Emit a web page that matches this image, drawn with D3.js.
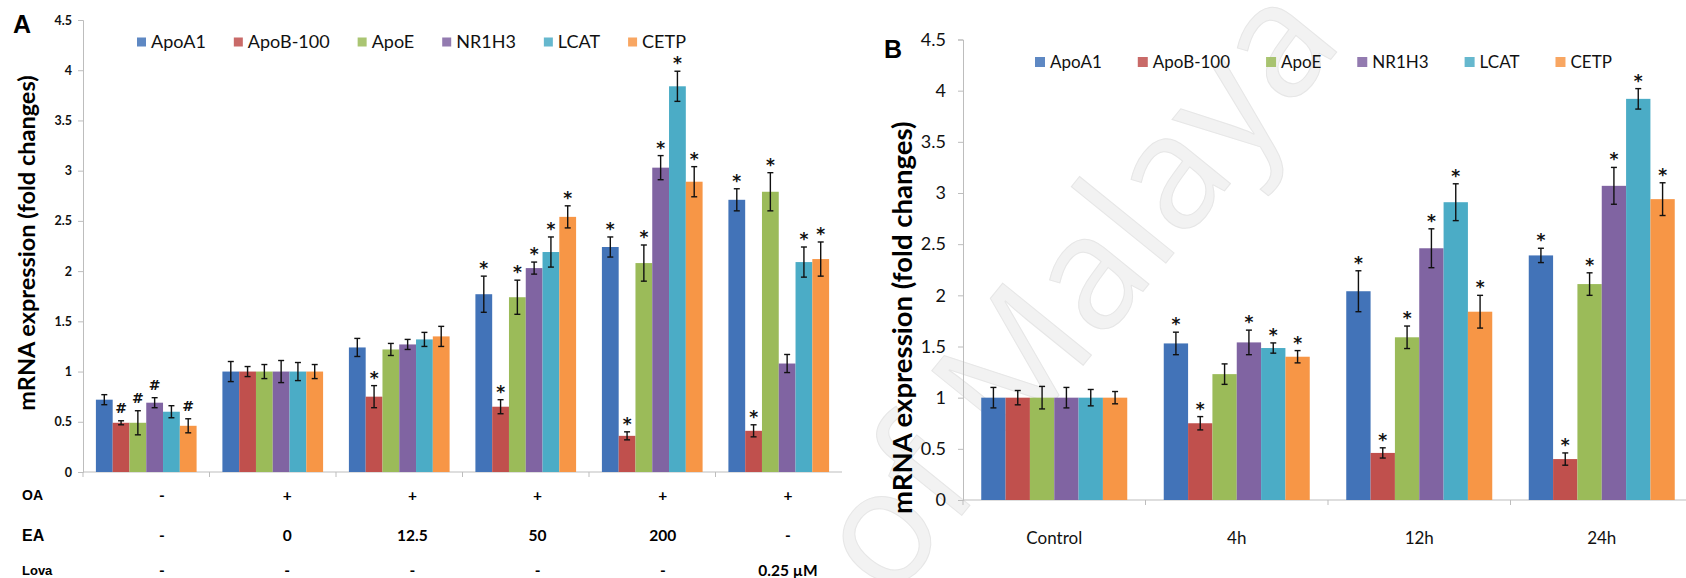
<!DOCTYPE html>
<html>
<head>
<meta charset="utf-8">
<script src="https://cdn.jsdelivr.net/npm/d3@7"></script>
<style>
  body { margin: 0; background: #fff; }
  svg { display: block; font-family: Lato, "Open Sans", sans-serif; }
</style>
</head>
<body>
<svg id="chart" width="1686" height="578"></svg>
<script>
"use strict";
// ---- data ----
var seriesNames = ["ApoA1", "ApoB-100", "ApoE", "NR1H3", "LCAT", "CETP"];
var seriesColors = ["#4273b8", "#c0504d", "#9bbb59", "#8064a2", "#4bacc6", "#f79646"];
var yTicks = [0, 0.5, 1, 1.5, 2, 2.5, 3, 3.5, 4, 4.5];

// panel A : treatment groups
var groupsA = ["ctrl", "oa", "ea12", "ea50", "ea200", "lova"];
var oaLabels = ["-", "+", "+", "+", "+", "+"];
var eaLabels = ["-", "0", "12.5", "50", "200", "-"];
var lovaLabels = ["-", "-", "-", "-", "-", "0.25 µM"];
// one row per series, one column per group
var meanA = [
  [0.72, 1.00, 1.24, 1.77, 2.24, 2.71],
  [0.49, 1.00, 0.75, 0.65, 0.36, 0.41],
  [0.49, 1.00, 1.22, 1.74, 2.08, 2.79],
  [0.69, 1.00, 1.27, 2.03, 3.03, 1.08],
  [0.60, 1.00, 1.32, 2.19, 3.84, 2.09],
  [0.46, 1.00, 1.35, 2.54, 2.89, 2.12]
];
var errA = [
  [0.05, 0.10, 0.09, 0.18, 0.10, 0.11],
  [0.02, 0.05, 0.11, 0.07, 0.04, 0.06],
  [0.12, 0.07, 0.06, 0.17, 0.18, 0.19],
  [0.05, 0.11, 0.05, 0.06, 0.12, 0.09],
  [0.06, 0.09, 0.07, 0.15, 0.15, 0.15],
  [0.07, 0.07, 0.10, 0.11, 0.15, 0.17]
];
var markA = [
  ["", "", "", "*", "*", "*"],
  ["#", "", "*", "*", "*", "*"],
  ["#", "", "", "*", "*", "*"],
  ["#", "", "", "*", "*", ""],
  ["", "", "", "*", "*", "*"],
  ["#", "", "", "*", "*", "*"]
];

// panel B : time course
var groupsB = ["Control", "4h", "12h", "24h"];
var meanB = [
  [1.00, 1.53, 2.04, 2.39],
  [1.00, 0.75, 0.46, 0.40],
  [1.00, 1.23, 1.59, 2.11],
  [1.00, 1.54, 2.46, 3.07],
  [1.00, 1.485, 2.91, 3.92],
  [1.00, 1.40, 1.84, 2.94]
];
var errB = [
  [0.10, 0.11, 0.20, 0.07],
  [0.07, 0.065, 0.05, 0.06],
  [0.11, 0.10, 0.11, 0.11],
  [0.10, 0.12, 0.19, 0.18],
  [0.08, 0.05, 0.18, 0.10],
  [0.06, 0.06, 0.16, 0.16]
];
var markB = [
  ["", "*", "*", "*"],
  ["", "*", "*", "*"],
  ["", "", "*", "*"],
  ["", "*", "*", "*"],
  ["", "*", "*", "*"],
  ["", "*", "*", "*"]
];

var svg = d3.select("#chart");
var axisGrey = "#bdbdbd";

// watermark behind everything
svg.append("text")
  .attr("transform", "translate(1345,42) rotate(-51)")
  .attr("text-anchor", "end")
  .attr("font-family", "'Open Sans', sans-serif")
  .attr("font-size", 160)
  .attr("fill", "#f2f2f2")
  .attr("stroke", "#e6e6e6")
  .attr("stroke-width", 1)
  .text("University of Malaya");

// flatten the matrices into one record per bar
function makeBars(groups, mean, err, mark) {
  var out = [];
  groups.forEach(function(g, gi) {
    seriesNames.forEach(function(s, si) {
      out.push({group: g, series: s, si: si, v: mean[si][gi], e: err[si][gi], m: mark[si][gi]});
    });
  });
  return out;
}

// draw one bar panel
function drawPanel(cfg) {
  var g = svg.append("g");
  var x0 = d3.scaleBand().domain(cfg.groups).range(cfg.xRange)
    .paddingInner(cfg.pad).paddingOuter(cfg.pad / 2);
  var x1 = d3.scaleBand().domain(seriesNames).range([0, x0.bandwidth()]);
  var y = d3.scaleLinear().domain([0, 4.5]).range(cfg.yRange);

  // y axis
  var ya = g.append("g")
    .attr("transform", "translate(" + cfg.xRange[0] + ",0)")
    .call(d3.axisLeft(y).tickValues(yTicks).tickSize(5).tickPadding(cfg.tickPad)
      .tickFormat(function(d) { return d; }));
  ya.select(".domain").attr("stroke", axisGrey);
  ya.selectAll(".tick line").attr("stroke", axisGrey);
  ya.selectAll(".tick text")
    .attr("fill", "#111")
    .attr("font-size", cfg.tickSize)
    .attr("font-weight", cfg.tickWeight)
    .attr("font-family", "Lato, sans-serif");

  // x baseline and separators
  g.append("line")
    .attr("x1", cfg.xRange[0]).attr("x2", cfg.xRange[1])
    .attr("y1", y(0)).attr("y2", y(0))
    .attr("stroke", axisGrey);
  g.selectAll(".sep")
    .data(cfg.groups)
    .enter().append("line")
    .attr("x1", function(d) { return x0(d) - x0.step() * cfg.pad / 2; })
    .attr("x2", function(d) { return x0(d) - x0.step() * cfg.pad / 2; })
    .attr("y1", y(0)).attr("y2", y(0) + 5)
    .attr("stroke", axisGrey);

  var bars = makeBars(cfg.groups, cfg.mean, cfg.err, cfg.mark);
  g.selectAll(".bar")
    .data(bars)
    .enter().append("rect")
    .attr("x", function(d) { return x0(d.group) + x1(d.series); })
    .attr("y", function(d) { return y(d.v); })
    .attr("width", x1.bandwidth())
    .attr("height", function(d) { return y(0) - y(d.v); })
    .attr("fill", function(d) { return seriesColors[d.si]; });

  // error bars
  var eb = g.selectAll(".err")
    .data(bars)
    .enter().append("g")
    .attr("transform", function(d) { return "translate(" + (x0(d.group) + x1(d.series) + x1.bandwidth() / 2) + ",0)"; })
    .attr("stroke", "#111")
    .attr("stroke-width", 1.4);
  eb.append("line")
    .attr("y1", function(d) { return y(d.v + d.e); })
    .attr("y2", function(d) { return y(d.v - d.e); });
  eb.append("line")
    .attr("x1", -3).attr("x2", 3)
    .attr("y1", function(d) { return y(d.v + d.e); })
    .attr("y2", function(d) { return y(d.v + d.e); });
  eb.append("line")
    .attr("x1", -3).attr("x2", 3)
    .attr("y1", function(d) { return y(d.v - d.e); })
    .attr("y2", function(d) { return y(d.v - d.e); });

  // significance marks
  g.selectAll(".mark")
    .data(bars.filter(function(d) { return d.m; }))
    .enter().append("text")
    .attr("x", function(d) { return x0(d.group) + x1(d.series) + x1.bandwidth() / 2; })
    .attr("y", function(d) { return y(d.v + d.e) - (d.m == "*" ? 2 : 8); })
    .attr("text-anchor", "middle")
    .attr("font-weight", "bold")
    .attr("font-size", function(d) { return d.m == "*" ? 17 : 14; })
    .attr("font-family", "'DejaVu Sans', sans-serif")
    .attr("fill", "#111")
    .text(function(d) { return d.m; });

  // legend, spaced by text width
  var lx = cfg.legendX;
  seriesNames.forEach(function(s, i) {
    g.append("rect")
      .attr("x", lx).attr("y", cfg.legendY - cfg.sq / 2)
      .attr("width", cfg.sq).attr("height", cfg.sq)
      .attr("fill", seriesColors[i]).attr("opacity", 0.85);
    var t = g.append("text")
      .attr("x", lx + cfg.sq + 5).attr("y", cfg.legendY)
      .attr("dy", "0.36em")
      .attr("font-size", cfg.legendSize)
      .attr("fill", "#111")
      .text(s);
    lx += cfg.sq + 5 + t.node().getComputedTextLength() + cfg.legendGap;
  });

  // y title
  g.append("text")
    .attr("transform", "translate(" + cfg.titleX + "," + ((cfg.yRange[0] + cfg.yRange[1]) / 2 + cfg.titleShift) + ") rotate(-90)")
    .attr("text-anchor", "middle")
    .attr("font-weight", "bold")
    .attr("font-size", cfg.titleSize)
    .attr("fill", "#000")
    .text("mRNA expression (fold changes)");

  // panel letter
  g.append("text")
    .attr("x", cfg.letterX).attr("y", cfg.letterY)
    .attr("font-family", "'Liberation Sans', Arial, sans-serif")
    .attr("font-weight", "bold")
    .attr("font-size", 25)
    .attr("fill", "#000")
    .text(cfg.letter);

  return {x0: x0, y: y, g: g};
}

// ---- panel A ----
var pA = drawPanel({
  groups: groupsA, mean: meanA, err: errA, mark: markA,
  xRange: [83, 842], yRange: [472, 20], pad: 0.204,
  tickPad: 6, tickSize: 12.5, tickWeight: "bold",
  legendX: 137, legendY: 42, sq: 9, legendSize: 18, legendGap: 28,
  titleX: 35, titleShift: -3, titleSize: 23.5,
  letter: "A", letterX: 13, letterY: 33
});

// treatment table under panel A
var rowX = d3.scalePoint().domain(groupsA).range([162, 788]);
var rows = [
  {name: "OA", labels: oaLabels, y: 495, size: 14},
  {name: "EA", labels: eaLabels, y: 535, size: 16},
  {name: "Lova", labels: lovaLabels, y: 570, size: 13}
];
rows.forEach(function(r) {
  pA.g.append("text")
    .attr("x", 22).attr("y", r.y).attr("dy", "0.36em")
    .attr("font-weight", "bold").attr("font-size", r.size)
    .attr("font-family", "'Liberation Sans', Arial, sans-serif")
    .text(r.name);
  pA.g.selectAll(null)
    .data(r.labels)
    .enter().append("text")
    .attr("x", function(d, i) { return rowX(groupsA[i]); })
    .attr("y", r.y).attr("dy", "0.36em")
    .attr("text-anchor", "middle")
    .attr("font-weight", "bold").attr("font-size", 15.5)
    .attr("font-family", "Lato, sans-serif")
    .text(function(d) { return d; });
});

// ---- panel B ----
var pB = drawPanel({
  groups: groupsB, mean: meanB, err: errB, mark: markB,
  xRange: [963, 1693], yRange: [500, 39.5], pad: 0.2,
  tickPad: 12, tickSize: 18, tickWeight: "normal",
  legendX: 1035, legendY: 62, sq: 10, legendSize: 17, legendGap: 36,
  titleX: 912, titleShift: 48, titleSize: 27.5,
  letter: "B", letterX: 884, letterY: 58
});

pB.g.selectAll(".xlab")
  .data(groupsB)
  .enter().append("text")
  .attr("x", function(d) { return pB.x0(d) + pB.x0.bandwidth() / 2; })
  .attr("y", 538).attr("dy", "0.36em")
  .attr("text-anchor", "middle")
  .attr("font-size", 17)
  .attr("fill", "#111")
  .text(function(d) { return d; });
</script>
</body>
</html>
